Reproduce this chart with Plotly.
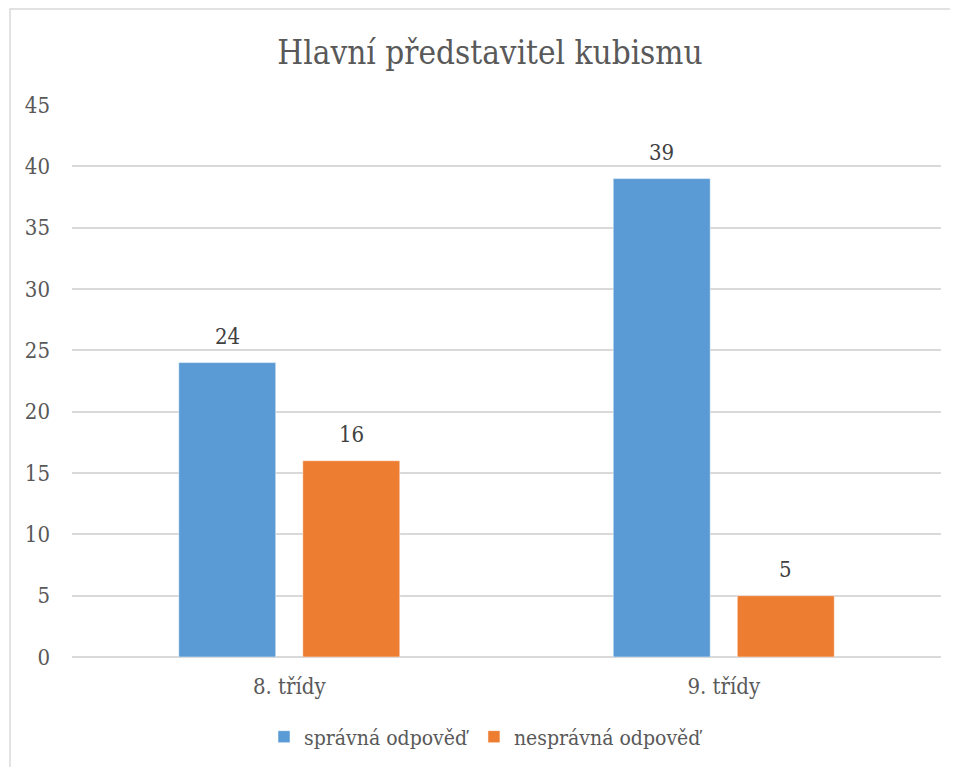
import plotly.graph_objects as go

categories = ["8. třídy", "9. třídy"]
spravna = [24, 39]
nespravna = [16, 5]
series_names = ["správná odpověď", "nesprávná odpověď"]
y_ticks = [0, 5, 10, 15, 20, 25, 30, 35, 40, 45]

BLUE = "#5B9BD5"
ORANGE = "#ED7D31"
TEXT = "#595959"
LABEL = "#404040"
GRID = "#D9D9D9"
FONT = "DejaVu Serif Condensed, DejaVu Serif"

# page body has an 8px margin, so the figure is 8px smaller than the window
W, H = 950, 759
L, R, T, B = 64, 17, 97, 110
pw = W - L - R
ph = H - T - B

fig = go.Figure()
fig.add_trace(go.Bar(x=categories, y=spravna, name=series_names[0],
                     marker=dict(color=BLUE, line=dict(color="white", width=0.5))))
fig.add_trace(go.Bar(x=categories, y=nespravna, name=series_names[1],
                     marker=dict(color=ORANGE, line=dict(color="white", width=0.5))))

# value labels above bars (offset to each bar of the group)
for vals, shift in ((spravna, -62), (nespravna, 62)):
    for cat, v in zip(categories, vals):
        fig.add_annotation(x=cat, y=v, text=str(v), showarrow=False,
                           xshift=shift, yanchor="bottom", yshift=12,
                           font=dict(family=FONT, size=22, color=LABEL))

# chart area border (top and left edges visible)
fig.add_shape(type="rect", xref="paper", yref="paper",
              x0=(2 - L) / pw, x1=(W + 20 - L) / pw,
              y0=-(B + 20) / ph, y1=(H - B - 1) / ph,
              line=dict(color=GRID, width=1.5), layer="below")

fig.update_layout(
    width=W, height=H,
    margin=dict(l=L, r=R, t=T, b=B, autoexpand=False),
    paper_bgcolor="white", plot_bgcolor="white",
    font=dict(family=FONT),
    title=dict(text="Hlavní představitel kubismu", x=482 / W, xref="container",
               xanchor="center", y=1 - 44 / H, yanchor="middle",
               font=dict(family=FONT, size=33, color=TEXT)),
    barmode="group", bargap=0.429, bargroupgap=0.218,
    showlegend=True,
    legend=dict(orientation="h", x=(478 - L) / pw, xanchor="center",
                y=-(729 - (H - B)) / ph, yanchor="middle",
                font=dict(family=FONT, size=21, color=TEXT),
                itemwidth=30, traceorder="normal"),
    xaxis=dict(showgrid=False, showline=False, ticks="",
               tickfont=dict(family=FONT, size=22, color=TEXT),
               ticklabelstandoff=14),
    yaxis=dict(range=[0, 45], tickvals=y_ticks, showgrid=True, gridcolor=GRID,
               gridwidth=1.5, zeroline=True, zerolinecolor=GRID, zerolinewidth=1.5,
               showline=False, ticks="",
               tickfont=dict(family=FONT, size=22, color=TEXT),
               ticklabelstandoff=21),
)

fig.write_html("out.html")
